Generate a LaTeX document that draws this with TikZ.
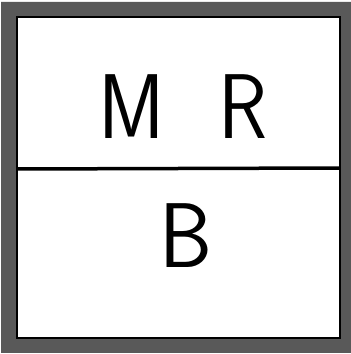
\documentclass[tikz,border=0pt]{standalone}
\begin{document}
\begin{tikzpicture}[x=1pt,y=1pt,
  lbl/.style={inner sep=0pt, font=\sffamily\fontsize{92}{92}\selectfont, text=black}]
\useasboundingbox (0,0) rectangle (351,354);
\fill[white] (0,0) rectangle (351,354);
% frame
\fill[black!65, even odd rule] (1,1) rectangle (351,352) (17,16) rectangle (340,337);
\draw[black, line width=1.2pt] (17,16) rectangle (340,337);
% divider
\coordinate (dl) at (17,185);
\coordinate (dr) at (340,186);
\draw[black, line width=3.5pt] (dl) -- (dr);
\node[lbl] (mr) at (183,247) {\scalebox{0.88}[1]{M\hspace{0.67em}R}};
\node[lbl] (b) at (186,118) {\scalebox{0.92}[1]{B}};
\end{tikzpicture}
\end{document}
